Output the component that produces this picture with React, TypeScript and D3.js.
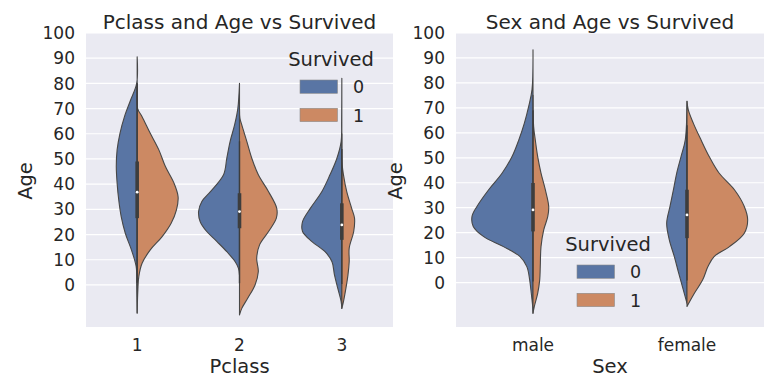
import React from "react";
import * as d3 from "d3";

// ---------- data ----------
const pclassCategories = ["1", "2", "3"];
const sexCategories = ["male", "female"];
const hueLevels = ["0", "1"];
const yTicks = [0, 10, 20, 30, 40, 50, 60, 70, 80, 90, 100];

// half-violin densities: [age, relative density (100 = widest in panel)]
const pclass1Died = [[90.6, 0], [80, 1.2], [73.4, 16], [66.8, 31], [60.2, 42], [53.6, 49], [47, 51], [40.4, 49], [33.7, 45], [27.1, 39], [20.5, 29], [13.9, 14], [7.3, 2.5], [0, 1], [-11.2, 0]];
const pclass1Survived = [[80, 0], [70.1, 1], [66.8, 12], [60.2, 32], [53.6, 53], [47, 69], [40.4, 90], [35, 100], [29.8, 96], [24.5, 83], [19.2, 61], [13.9, 32], [8.6, 12], [3.3, 4], [-2, 1.7], [-11, 0]];
const pclass2Died = [[80, 0], [70.1, 4], [63.5, 12], [56.9, 23], [50.3, 31], [43.7, 39], [37, 71], [33.1, 92], [29.1, 100], [25.1, 96], [21.2, 80], [17.2, 55], [13.2, 31], [9.2, 10.5], [6.6, 2.5], [4, 0]];
const pclass2Survived = [[70, 0], [66.2, 1], [63.5, 5.6], [56.9, 18], [50.3, 30], [43.7, 46], [37, 71], [30.4, 91], [26.5, 90], [21.2, 71], [15.9, 49], [10.6, 42], [5.3, 46], [0, 38], [-5.3, 20], [-9.3, 5.6], [-11.9, 0]];
const pclass3Died = [[82, 0], [65, 0.5], [56.9, 1.7], [50.3, 12], [43.7, 29], [37, 49], [30.4, 77], [25.1, 96], [21.2, 96], [17.2, 73], [13.2, 41], [9.2, 24], [4, 18], [-1.3, 10], [-6.6, 1.7], [-9.3, 0]];
const pclass3Survived = [[60, 0], [47.6, 1], [43.7, 4], [37, 12], [30.4, 24], [26.5, 31], [21.2, 29], [14.6, 18], [9.2, 18], [4, 15], [-1.3, 10], [-6.6, 4], [-9.3, 0]];
const maleDied = [[93.3, 0], [77.3, 1.6], [70.6, 7], [63.9, 14], [57.2, 23], [50.5, 34], [43.9, 50], [37.2, 72], [30.5, 91], [26.5, 99], [22.5, 97], [18.4, 80], [14.4, 48], [10.4, 21], [6.4, 10], [1.1, 5.4], [-4.3, 2.8], [-9.6, 0.5], [-12.3, 0]];
const maleSurvived = [[75, 0], [62.6, 1], [57.2, 3.7], [50.5, 7.6], [43.9, 13], [37.2, 20], [30.5, 25.5], [26.5, 24], [21.1, 17.4], [14.4, 13], [6.4, 11.8], [1.1, 10.9], [-4.3, 7.6], [-9.6, 2.1], [-12.3, 0]];
const femaleDied = [[72.6, 0], [57.2, 2.8], [50.5, 9.7], [43.9, 16.7], [37.2, 22], [30.5, 27.6], [23.8, 33], [17.1, 28.7], [10.4, 20.6], [3.8, 13.5], [-2.9, 6], [-8.3, 0]];
const femaleSurvived = [[72.6, 0], [69.2, 2.1], [63.9, 10.2], [57.2, 22.7], [50.5, 36], [43.9, 52], [37.2, 77], [30.5, 93], [25.1, 98.5], [19.8, 93], [14.4, 69], [10.4, 44], [6.4, 34], [1.1, 25.5], [-4.3, 12], [-8.3, 2.8], [-9.6, 0]];

// inner box: [whiskerLow, q1, median, q3, whiskerHigh]
const pclassBoxes = [[0.9, 26.5, 36.8, 49, 80], [0.7, 22.5, 29.1, 36.4, 57], [0.4, 17.9, 23.8, 32.4, 54]];
const sexBoxes = [[0.4, 20.5, 29.1, 39.9, 69], [0.8, 17.8, 27.1, 37.2, 63]];

// ---------- style ----------
const COLORS = ["#5975a4", "#cc8963"];
const BG = "#eaeaf2";
const TEXT = "#262626";
const OUTLINE = "#474747";
const FONT = "DejaVu Sans, sans-serif";

type Panel = {
  title: string;
  xLabel: string;
  categories: string[];
  halves: number[][][][]; // per category: [died, survived]
  boxes: number[][];
  left: number;
  right: number;
  yMin: number;
  legend: { x: number; y: number };
};

const TOP = 33;
const BOTTOM = 327;

const panels: Panel[] = [
  {
    title: "Pclass and Age vs Survived",
    xLabel: "Pclass",
    categories: pclassCategories,
    halves: [[pclass1Died, pclass1Survived], [pclass2Died, pclass2Survived], [pclass3Died, pclass3Survived]],
    boxes: pclassBoxes,
    left: 86,
    right: 393,
    yMin: -16.7,
    legend: { x: 300, y: 66 },
  },
  {
    title: "Sex and Age vs Survived",
    xLabel: "Sex",
    categories: sexCategories,
    halves: [[maleDied, maleSurvived], [femaleDied, femaleSurvived]],
    boxes: sexBoxes,
    left: 456,
    right: 764,
    yMin: -17.8,
    legend: { x: 577, y: 251 },
  },
];

function PanelView({ p }: { p: Panel }) {
  const x = d3.scaleBand().domain(p.categories).range([p.left, p.right]).padding(0);
  const y = d3.scaleLinear().domain([p.yMin, 100]).range([BOTTOM, TOP]);
  const bw = x.bandwidth();
  const w = d3.scaleLinear().domain([0, 100]).range([0, 0.4 * bw]);
  const cx = (c: string) => (x(c) as number) + bw / 2;
  const midX = (p.left + p.right) / 2;
  const midY = (TOP + BOTTOM) / 2;

  return (
    <g>
      <rect x={p.left} y={TOP} width={p.right - p.left} height={BOTTOM - TOP} fill={BG} />
      {yTicks.map((t) => (
        <line key={t} x1={p.left} x2={p.right} y1={y(t)} y2={y(t)} stroke="#ffffff" strokeWidth={1.2} />
      ))}
      {p.categories.map((c, i) => {
        const center = cx(c);
        return (
          <g key={c}>
            {p.halves[i].map((half, h) => {
              const sorted = [...half].sort((a, b) => a[0] - b[0]);
              const sign = h === 0 ? -1 : 1;
              const area = d3
                .area<number[]>()
                .y((d) => y(d[0]))
                .x0(() => center)
                .x1((d) => center + sign * w(d[1]))
                .curve(d3.curveCatmullRom.alpha(0.5));
              return (
                <path key={h} d={area(sorted) || ""} fill={COLORS[h]} stroke={OUTLINE} strokeWidth={1.1} strokeLinejoin="round" />
              );
            })}
          </g>
        );
      })}
      {p.categories.map((c, i) => {
        const center = cx(c);
        const [lo, q1, med, q3, hi] = p.boxes[i];
        return (
          <g key={"box" + c}>
            <line x1={center} x2={center} y1={y(lo)} y2={y(hi)} stroke="#3d3d3d" strokeWidth={1.4} />
            <line x1={center} x2={center} y1={y(q1)} y2={y(q3)} stroke="#3d3d3d" strokeWidth={3.6} />
            <circle cx={center} cy={y(med)} r={1.4} fill="#ffffff" />
          </g>
        );
      })}
      {yTicks.map((t) => (
        <text key={"yt" + t} x={p.left - 11} y={y(t)} dy="0.36em" textAnchor="end" fontSize={17} fill={TEXT} fontFamily={FONT}>
          {t}
        </text>
      ))}
      {p.categories.map((c) => (
        <text key={"xt" + c} x={cx(c)} y={350.5} textAnchor="middle" fontSize={17} fill={TEXT} fontFamily={FONT}>
          {c}
        </text>
      ))}
      <text x={midX} y={372.5} textAnchor="middle" fontSize={19.5} fill={TEXT} fontFamily={FONT}>
        {p.xLabel}
      </text>
      <text
        transform={`translate(${p.left - 54},${midY + 1}) rotate(-90)`}
        textAnchor="middle"
        fontSize={19.5}
        fill={TEXT}
        fontFamily={FONT}
      >
        Age
      </text>
      <text x={midX} y={28.5} textAnchor="middle" fontSize={20} fill={TEXT} fontFamily={FONT}>
        {p.title}
      </text>
      <g>
        <text x={p.legend.x + 31} y={p.legend.y} textAnchor="middle" fontSize={19.5} fill={TEXT} fontFamily={FONT}>
          Survived
        </text>
        {hueLevels.map((lv, k) => (
          <g key={lv}>
            <rect
              x={p.legend.x}
              y={p.legend.y + 14 + k * 28.3}
              width={37.5}
              height={13.3}
              fill={COLORS[k]}
              stroke="#8a8a8a"
              strokeWidth={0.6}
            />
            <text x={p.legend.x + 53} y={p.legend.y + 27.3 + k * 28.3} fontSize={17.5} fill={TEXT} fontFamily={FONT}>
              {lv}
            </text>
          </g>
        ))}
      </g>
    </g>
  );
}

export default function App() {
  return (
    <svg width={776} height={390} style={{ position: "absolute", left: 0, top: 0, background: "#ffffff" }}>
      {panels.map((p) => (
        <PanelView key={p.title} p={p} />
      ))}
    </svg>
  );
}
